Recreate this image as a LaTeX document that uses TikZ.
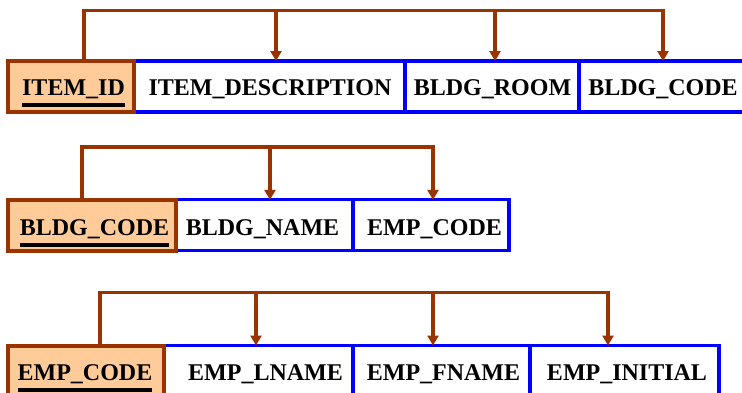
\documentclass[tikz,border=0pt]{standalone}
\usepackage{fontspec}
\setmainfont{Liberation Serif}
\usetikzlibrary{arrows.meta}
\definecolor{fdbrown}{RGB}{153,51,0}
\definecolor{keyfill}{RGB}{255,204,153}
\definecolor{attrblue}{RGB}{0,0,255}
\begin{document}
\begin{tikzpicture}[x=1pt,y=-1pt,
  attr/.style={draw=attrblue, line width=3.3pt, fill=white, minimum height=51pt, inner sep=0pt, outer sep=0pt},
  keybox/.style={draw=fdbrown, line width=4pt, fill=keyfill, minimum height=51pt, inner sep=0pt, outer sep=0pt},
  lbl/.style={inner sep=0pt, outer sep=0pt, anchor=base, font=\bfseries\fontsize{24}{28}\selectfont},
  ul/.style={line width=4pt, black},
  fdline/.style={draw=fdbrown, line width=3.6pt},
  fdarrow/.style={fdline, -{Triangle[width=11pt,length=10pt]}}]
\useasboundingbox (0,0) rectangle (742,392);
\clip (0,0) rectangle (742,392);

% ---- Row 1 ----
\node[attr, minimum width=271pt] (d1) at (269.5,86.5) {};
\node[attr, minimum width=174pt] (r1) at (492,86.5) {};
\node[attr, minimum width=168pt] (c1) at (663,86.5) {};
\node[keybox, minimum width=126pt] (k1) at (71,86.5) {};
\node[lbl] (t11) at (73.5,95) {ITEM\_ID};
\node[lbl] (t12) at (270,95) {ITEM\_DESCRIPTION};
\node[lbl] (t13) at (492.5,95) {BLDG\_ROOM};
\node[lbl] (t14) at (663,95) {BLDG\_CODE};
\draw[ul] ([yshift=-10.3pt]t11.base west) -- ([yshift=-10.3pt]t11.base east);
\coordinate (h1) at (84,10.3);
\coordinate (a11) at ([xshift=6.5pt]d1.north);
\coordinate (a12) at ([xshift=3pt]r1.north);
\coordinate (a13) at (c1.north);
\draw[fdarrow] (k1.north -| h1) -- (h1) -| (a13);
\draw[fdarrow] (a11 |- h1) -- (a11);
\draw[fdarrow] (a12 |- h1) -- (a12);

% ---- Row 2 ----
\node[attr, minimum width=177pt] (n2) at (264.5,225.3) {};
\node[attr, minimum width=156pt] (e2) at (431,225.3) {};
\node[keybox, minimum width=168pt] (k2) at (92,225.3) {};
\node[lbl] (t21) at (94.5,235.5) {BLDG\_CODE};
\node[lbl] (t22) at (262.5,235.5) {BLDG\_NAME};
\node[lbl] (t23) at (434.5,235.5) {EMP\_CODE};
\draw[ul] ([yshift=-9pt]t21.base west) -- ([yshift=-9pt]t21.base east);
\coordinate (h2) at (82,147);
\coordinate (a21) at ([xshift=5.5pt]n2.north);
\coordinate (a22) at ([xshift=2pt]e2.north);
\draw[fdarrow] (k2.north -| h2) -- (h2) -| (a22);
\draw[fdarrow] (a21 |- h2) -- (a21);

% ---- Row 3 ----
\node[attr, minimum width=189pt] (l3) at (258.5,371) {};
\node[attr, minimum width=177pt] (f3) at (441.5,371) {};
\node[attr, minimum width=189pt] (i3) at (624.5,371) {};
\node[keybox, minimum width=156pt] (k3) at (86,371) {};
\node[lbl] (t31) at (85,380) {EMP\_CODE};
\node[lbl] (t32) at (265.5,380) {EMP\_LNAME};
\node[lbl] (t33) at (443.5,380) {EMP\_FNAME};
\node[lbl] (t34) at (627,380) {EMP\_INITIAL};
\draw[ul] ([yshift=-10.3pt]t31.base west) -- ([yshift=-10.3pt]t31.base east);
\coordinate (h3) at (100,292.5);
\coordinate (a31) at ([xshift=-2.5pt]l3.north);
\coordinate (a32) at ([xshift=-8.5pt]f3.north);
\coordinate (a33) at ([xshift=-16.5pt]i3.north);
\draw[fdarrow] (k3.north -| h3) -- (h3) -| (a33);
\draw[fdarrow] (a31 |- h3) -- (a31);
\draw[fdarrow] (a32 |- h3) -- (a32);
\end{tikzpicture}
\end{document}
